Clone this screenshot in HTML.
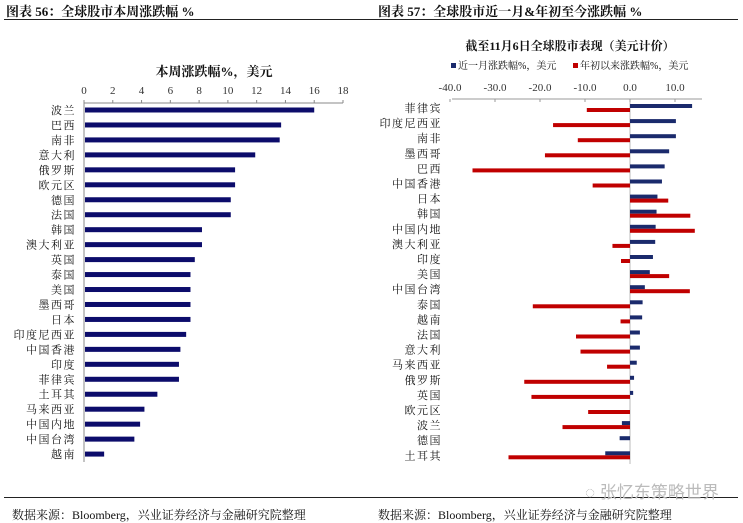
<!DOCTYPE html>
<html><head><meta charset="utf-8"><style>
body{margin:0;background:#fff;width:743px;height:523px;overflow:hidden;position:relative;font-family:"Liberation Serif","Noto Serif CJK SC",serif;}
.t{position:absolute;font-size:13px;font-weight:bold;color:#111;white-space:nowrap}
.f{position:absolute;font-size:12px;color:#111;white-space:nowrap}
.rule{position:absolute;height:1px;background:#222}
</style></head><body>
<div class="t" style="left:6px;top:1px">图表 56：全球股市本周涨跌幅 %</div>
<div class="t" style="left:378px;top:1px">图表 57：全球股市近一月&amp;年初至今涨跌幅 %</div>
<div class="rule" style="left:4px;top:19px;width:734px"></div>
<div class="rule" style="left:4px;top:497px;width:734px"></div>
<div class="f" style="left:12px;top:506px">数据来源：Bloomberg，兴业证券经济与金融研究院整理</div>
<div class="f" style="left:378px;top:506px">数据来源：Bloomberg，兴业证券经济与金融研究院整理</div>
<div class="f" style="left:585px;top:478px;font-size:17px;color:#bbb;font-family:'Liberation Sans','Noto Sans CJK SC',sans-serif">◌ 张忆东策略世界</div>
<svg id="chart" width="743" height="523" style="position:absolute;left:0;top:0"></svg>
<script>
const leftCats=["波兰","巴西","南非","意大利","俄罗斯","欧元区","德国","法国","韩国","澳大利亚","英国","泰国","美国","墨西哥","日本","印度尼西亚","中国香港","印度","菲律宾","土耳其","马来西亚","中国内地","中国台湾","越南"];
const leftVals=[16.0,13.7,13.6,11.9,10.5,10.5,10.2,10.2,8.2,8.2,7.7,7.4,7.4,7.4,7.4,7.1,6.7,6.6,6.6,5.1,4.2,3.9,3.5,1.4];
const leftTicks=[0,2,4,6,8,10,12,14,16,18];
const rightCats=["菲律宾","印度尼西亚","南非","墨西哥","巴西","中国香港","日本","韩国","中国内地","澳大利亚","印度","美国","中国台湾","泰国","越南","法国","意大利","马来西亚","俄罗斯","英国","欧元区","波兰","德国","土耳其"];
const monthVals=[13.8,10.2,10.2,8.7,7.7,7.1,6.1,5.9,5.7,5.6,5.1,4.4,3.3,2.8,2.7,2.2,2.2,1.5,0.9,0.7,0,-1.8,-2.3,-5.5];
const ytdVals=[-9.6,-17.1,-11.6,-18.9,-35.0,-8.3,8.5,13.4,14.4,-3.9,-2.0,8.7,13.3,-21.6,-2.1,-12.0,-11.0,-5.1,-23.5,-21.9,-9.3,-15.0,0,-27.0];
const rightTicks=[-40,-30,-20,-10,0,10];

const NS="http://www.w3.org/2000/svg";
const svg=document.getElementById('chart');
function mk(tag,attrs,parent){const e=document.createElementNS(NS,tag);for(const k in attrs)e.setAttribute(k,attrs[k]);(parent||svg).appendChild(e);return e;}
const FONT='"Liberation Serif","Noto Serif CJK SC",serif';

// Left chart
const lx=v=>84+v*(259/18);
const ly=i=>110+i*14.96;
let t=mk('text',{x:214,y:76,'text-anchor':'middle','font-size':13,'font-weight':'bold','font-family':FONT,fill:'#111'});t.textContent='本周涨跌幅%，美元';


let ax=mk('line',{x1:84,y1:103,x2:343,y2:103,stroke:'#888','stroke-width':1});


mk('line',{x1:84,y1:103,x2:84,y2:462,stroke:'#888','stroke-width':1});
leftTicks.forEach(v=>{
  mk('line',{x1:lx(v),y1:100,x2:lx(v),y2:103,stroke:'#888'});
  const e=mk('text',{x:lx(v),y:94,'text-anchor':'middle','font-size':11,'font-family':FONT,fill:'#333'});e.textContent=v;
  
  
});
leftCats.forEach((c,i)=>{
  const e=mk('text',{x:76,y:ly(i)+4,'text-anchor':'end','font-size':11,'letter-spacing':'1.5','font-family':FONT,fill:'#111'});e.textContent=c;
  
  
  const b=mk('rect',{x:lx(0)+1,y:ly(i)-2.5,width:lx(leftVals[i])-lx(0)-1,height:5,fill:'#0c0c6b'});
  
  
});

// Right chart
const rx=v=>630+v*4.5;
const ry=i=>108+i*15.1;
t=mk('text',{x:570,y:50,'text-anchor':'middle','font-size':12,'font-weight':'bold','font-family':FONT,fill:'#111'});t.textContent='截至11月6日全球股市表现（美元计价）';


let lg=mk('rect',{x:451,y:63,width:5,height:5,fill:'#1a2a6c'});


t=mk('text',{x:458,y:69,'font-size':10,'font-family':FONT,fill:'#111'});t.textContent='近一月涨跌幅%，美元';


lg=mk('rect',{x:573,y:63,width:5,height:5,fill:'#c00000'});


t=mk('text',{x:580,y:69,'font-size':10,'font-family':FONT,fill:'#111'});t.textContent='年初以来涨跌幅%，美元';


ax=mk('line',{x1:452,y1:99,x2:702,y2:99,stroke:'#999'});


mk('line',{x1:rx(0),y1:99,x2:rx(0),y2:464,stroke:'#bbb'});
rightTicks.forEach(v=>{
  mk('line',{x1:rx(v),y1:99,x2:rx(v),y2:102,stroke:'#999'});
  const e=mk('text',{x:rx(v),y:91,'text-anchor':'middle','font-size':11,'font-family':FONT,fill:'#333'});e.textContent=v.toFixed(1);
  
  
});
rightCats.forEach((c,i)=>{
  const e=mk('text',{x:442,y:ry(i)+4,'text-anchor':'end','font-size':11,'letter-spacing':'1.5','font-family':FONT,fill:'#111'});e.textContent=c;
  
  
  const m=monthVals[i],y=ytdVals[i];
  const b1=mk('rect',{x:Math.min(rx(0),rx(m)),y:ry(i)-4,width:Math.abs(rx(m)-rx(0)),height:4,fill:'#1a2a6c'});
  
  
  const b2=mk('rect',{x:Math.min(rx(0),rx(y)),y:ry(i),width:Math.abs(rx(y)-rx(0)),height:4,fill:'#c00000'});
  
  
});
</script>
</body></html>
